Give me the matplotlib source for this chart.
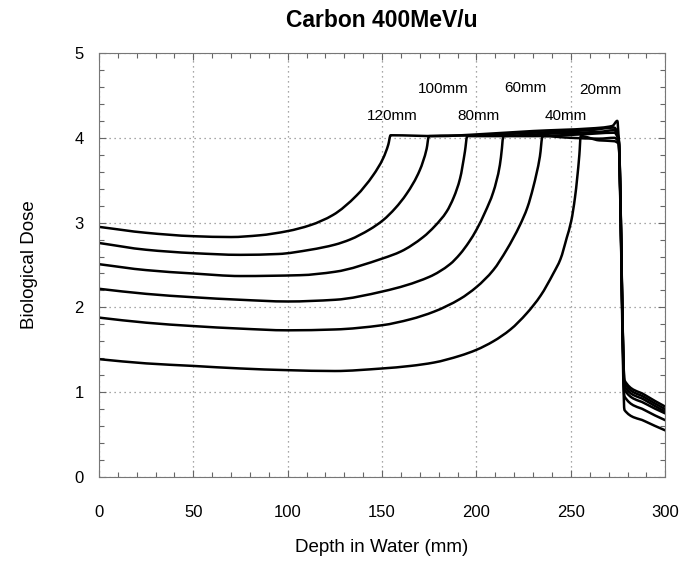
import numpy as np
import matplotlib
matplotlib.use("Agg")
import matplotlib.pyplot as plt
from matplotlib.ticker import MultipleLocator
from matplotlib.path import Path
from matplotlib.patches import PathPatch

## biological dose vs depth, carbon 400MeV/u, SOBP widths 20-120mm

depth_120 = [0, 25, 50, 70, 85, 100, 112, 124, 136.5, 145.3, 150.6, 153.3, 154.5,
             180, 200, 230, 260, 272, 274.6, 275.3, 278.4, 289, 300]
dose_120 = [2.95, 2.88, 2.84, 2.83, 2.85, 2.90, 2.97, 3.09, 3.32, 3.56, 3.76, 3.92, 4.03,
            4.02, 4.04, 4.08, 4.11, 4.14, 4.20, 4.00, 1.14, 0.97, 0.83]

depth_100 = [0, 25, 50, 75, 95, 112, 125, 133, 143.5, 150.6, 157, 163, 170, 173.6, 174.8,
             200, 230, 260, 273, 275.3, 278.4, 289, 300]
dose_100 = [2.76, 2.68, 2.64, 2.62, 2.63, 2.68, 2.74, 2.80, 2.92, 3.03, 3.17, 3.34, 3.62, 3.87, 4.02,
            4.03, 4.06, 4.09, 4.12, 4.00, 1.11, 0.94, 0.80]

depth_80 = [0, 25, 50, 75, 106.5, 125, 150.6, 160, 171.8, 178, 184.2, 188, 191.3, 193.9, 195.1,
            210, 240, 265, 273, 275.3, 278.4, 289, 300]
dose_80 = [2.51, 2.44, 2.40, 2.37, 2.38, 2.42, 2.58, 2.66, 2.83, 2.96, 3.13, 3.30, 3.52, 3.84, 4.02,
           4.02, 4.05, 4.07, 4.09, 3.98, 1.07, 0.91, 0.77]

depth_60 = [0, 25, 50, 75, 100, 125, 150.6, 175, 186, 191.3, 196, 200.1, 204.5, 208.9,
            212.4, 213.5, 214.2, 230, 255, 273, 275.3, 278.4, 289, 300]
dose_60 = [2.22, 2.16, 2.12, 2.09, 2.07, 2.09, 2.19, 2.36, 2.51, 2.63, 2.77, 2.92, 3.12, 3.36,
           3.68, 3.88, 4.02, 4.02, 4.04, 4.06, 3.97, 1.03, 0.87, 0.75]

depth_40 = [0, 25, 50, 75, 100, 125, 150, 165, 177.5, 191.3, 200, 208.9, 216, 223, 227,
            230.1, 233.6, 235, 250, 265, 273, 275.3, 278.4, 289, 300]
dose_40 = [1.88, 1.82, 1.78, 1.75, 1.73, 1.74, 1.79, 1.86, 1.95, 2.10, 2.24, 2.44, 2.68, 2.97, 3.18,
           3.42, 3.78, 4.02, 4.00, 3.99, 4.00, 3.95, 0.95, 0.79, 0.67]

depth_20 = [0, 25, 50, 75, 100, 125, 150, 165, 177.5, 191.3, 200, 208.9, 218, 226.6, 234, 240.7,
            244.5, 247.8, 250.2, 252.2, 254.5, 255.2, 265, 273, 275.3, 278.4, 289, 300]
dose_20 = [1.39, 1.34, 1.31, 1.28, 1.26, 1.25, 1.28, 1.31, 1.35, 1.43, 1.50, 1.60, 1.74, 1.93, 2.14, 2.40,
           2.57, 2.82, 3.02, 3.30, 3.80, 4.02, 3.97, 3.96, 3.93, 0.79, 0.66, 0.55]

curves = [(depth_120, dose_120), (depth_100, dose_100), (depth_80, dose_80),
          (depth_60, dose_60), (depth_40, dose_40), (depth_20, dose_20)]

width_labels = ["120mm", "100mm", "80mm", "60mm", "40mm", "20mm"]
label_x = [155.3, 182.5, 201.3, 225.7, 247.2, 265.4]
label_y = [4.26, 4.57, 4.26, 4.59, 4.26, 4.56]


def smooth_path(x, y):
    # monotone cubic (Fritsch-Carlson) drawn as bezier segments, no overshoot
    x = np.asarray(x, float)
    y = np.asarray(y, float)
    h = np.diff(x)
    d = np.diff(y) / h
    m = np.zeros_like(y)
    m[0], m[-1] = d[0], d[-1]
    for i in range(1, len(y) - 1):
        if d[i - 1] * d[i] <= 0:
            m[i] = 0
        else:
            w1 = 2 * h[i] + h[i - 1]
            w2 = h[i] + 2 * h[i - 1]
            m[i] = (w1 + w2) / (w1 / d[i - 1] + w2 / d[i])
    verts = [(x[0], y[0])]
    codes = [Path.MOVETO]
    for i in range(len(h)):
        verts += [(x[i] + h[i] / 3, y[i] + m[i] * h[i] / 3),
                  (x[i + 1] - h[i] / 3, y[i + 1] - m[i + 1] * h[i] / 3),
                  (x[i + 1], y[i + 1])]
        codes += [Path.CURVE4] * 3
    return Path(verts, codes)


fig = plt.figure(figsize=(6.81, 5.67), dpi=100)
ax = fig.add_axes([0.1452, 0.1587, 0.8317, 0.7478])

for d, v in curves:
    ax.add_patch(PathPatch(smooth_path(d, v), fill=False, edgecolor="black",
                           lw=1.8, joinstyle="round", capstyle="round"))

for t, x, y in zip(width_labels, label_x, label_y):
    ax.text(x, y, t, ha="center", va="center", fontsize=11, family="Liberation Sans")

ax.set_xlim(0, 300)
ax.set_ylim(0, 5)
ax.xaxis.set_major_locator(MultipleLocator(50))
ax.xaxis.set_minor_locator(MultipleLocator(10))
ax.yaxis.set_major_locator(MultipleLocator(1))
ax.yaxis.set_minor_locator(MultipleLocator(0.2))
ax.grid(True, which="major", color="#8a8a8a", lw=0.9, linestyle=(0, (1, 3)))
ax.set_axisbelow(True)
ax.tick_params(which="both", direction="in", top=True, right=True, color="#666666", width=0.8)
ax.tick_params(which="major", length=5)
ax.tick_params(which="minor", length=3.5)
ax.tick_params(axis="x", pad=20)
ax.tick_params(axis="y", pad=11)
for s in ax.spines.values():
    s.set_color("#777777")
    s.set_linewidth(0.8)

for lab in ax.get_xticklabels() + ax.get_yticklabels():
    lab.set_family("Liberation Sans")
    lab.set_fontsize(12)

ax.set_xlabel("Depth in Water (mm)", fontsize=13.5, family="Liberation Sans", labelpad=14)
ax.set_ylabel("Biological Dose", fontsize=13.5, family="Liberation Sans", labelpad=26)
ax.set_title("Carbon 400MeV/u", fontsize=16.5, fontweight="bold", family="Liberation Sans", pad=19)

plt.savefig("out.png", dpi=100)
